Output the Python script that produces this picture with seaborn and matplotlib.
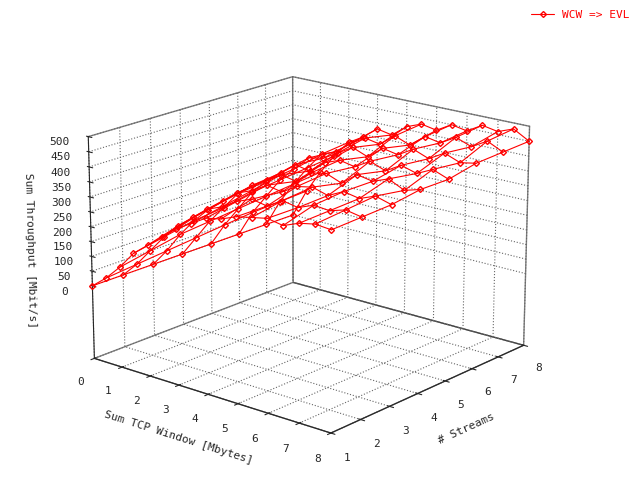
import numpy as np
import matplotlib
matplotlib.use("Agg")
import matplotlib.pyplot as plt
import seaborn as sns

sns.set_style("white")
plt.rcParams["font.family"] = "DejaVu Sans Mono"

window = [0, 0.5, 1, 1.5, 2, 2.5, 3, 3.5, 4, 4.5, 5, 5.5, 6, 6.5, 7, 7.5, 8]
streams = [1, 2, 3, 4, 5, 6, 7, 8]
throughput = [
    [0, 40, 90, 150, 190, 230, 270, 300, 330, 340, 360, 370, 380, 370, 390, 400, 395],
    [0, 50, 110, 170, 220, 260, 300, 320, 350, 370, 360, 390, 380, 400, 395, 410, 400],
    [0, 60, 130, 190, 240, 280, 320, 340, 370, 360, 390, 400, 385, 410, 400, 420, 405],
    [0, 70, 140, 200, 260, 300, 330, 360, 350, 390, 400, 380, 420, 410, 430, 405, 420],
    [0, 80, 150, 220, 270, 310, 350, 340, 380, 400, 390, 420, 400, 430, 415, 440, 420],
    [0, 90, 160, 230, 280, 330, 340, 370, 400, 380, 420, 410, 440, 420, 450, 430, 440],
    [0, 95, 170, 240, 300, 320, 360, 390, 380, 420, 400, 440, 430, 460, 440, 470, 445],
    [0, 100, 180, 250, 310, 340, 380, 370, 410, 430, 420, 450, 440, 470, 460, 480, 450],
]

X, Y = np.meshgrid(window, streams)
Z = np.array(throughput)

fig = plt.figure(figsize=(6.4, 4.8), dpi=100)
ax = fig.add_axes([-0.05, -0.02, 1.05, 1.0], projection="3d")
for i in range(len(streams)):
    ax.plot(X[i], Y[i], Z[i], color="red", lw=0.8, marker="D", ms=3,
            mfc="none", mec="red", label="WCW => EVL" if i == 0 else None)
for j in range(len(window)):
    ax.plot(X[:, j], Y[:, j], Z[:, j], color="red", lw=0.8)

ax.set_xlim(0, 8)
ax.set_ylim(1, 8)
ax.set_zlim(-250, 500)
ax.set_xticks(range(0, 9))
ax.set_yticks(range(1, 9))
ax.set_zticks(range(0, 501, 50))
ax.set_xlabel("Sum TCP Window [Mbytes]", fontsize=8)
ax.set_ylabel("# Streams", fontsize=8)
ax.set_zlabel("Sum Throughput [Mbit/s]", fontsize=8)
ax.tick_params(labelsize=8)
ax.view_init(elev=18, azim=-50)
ax.zaxis._axinfo["juggled"] = (1, 2, 0)
for a in (ax.xaxis, ax.yaxis, ax.zaxis):
    a.pane.fill = False
    a.pane.set_edgecolor("black")
    a._axinfo["grid"]["linestyle"] = ":"
    a._axinfo["grid"]["color"] = "0.4"
fig.legend(loc="upper right", frameon=False, fontsize=8, labelcolor="red")
fig.savefig("out.png", dpi=100)
